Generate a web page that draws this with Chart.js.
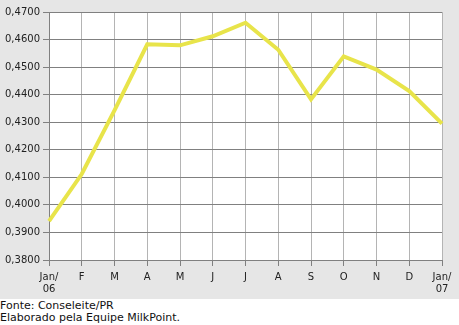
<!DOCTYPE html>
<html>
<head>
<meta charset="utf-8">
<script src="https://cdn.jsdelivr.net/npm/chart.js@4"></script>
<style>
body{margin:0;background:#fff;font-family:"DejaVu Sans",sans-serif;}
#wrap{width:459px;height:299px;background:#e6e6e6;}
#foot{font-size:11px;line-height:12px;color:#111;padding-top:1px;}
</style>
</head>
<body>
<div id="wrap"><canvas id="chart" width="459" height="299"></canvas></div>
<div id="foot">Fonte: Conseleite/PR<br>Elaborado pela Equipe MilkPoint.</div>
<script>

let months=[["Jan/","06"],"F","M","A","M","J","J","A","S","O","N","D",["Jan/","07"]];
let prices=[0.3941,0.4112,0.4343,0.4583,0.4579,0.4612,0.4661,0.4563,0.4383,0.4539,0.4491,0.4413,0.4295];
let yMin=0.38, yMax=0.47, yStep=0.01;

// white plot area on the grey card
let plotBg={
id:"plotBg",
beforeDraw(c){
let a=c.chartArea;
c.ctx.save();
c.ctx.fillStyle="#fff";
c.ctx.fillRect(a.left,a.top,a.right-a.left,a.bottom-a.top);
c.ctx.restore();
}
};

let chart=new Chart(document.getElementById("chart"),{
type:"line",
data:{
labels:months,
datasets:[{
data:prices,
borderColor:"#e8e44a",
borderWidth:4,
pointRadius:0,
tension:0,
fill:false
}]
},
options:{
responsive:false,
animation:false,
devicePixelRatio:1,
layout:{padding:{top:12,right:17,left:0,bottom:0}},
plugins:{legend:{display:false},tooltip:{enabled:false}},
scales:{
x:{
offset:false,
grid:{color:"#b4b4b4",tickColor:"#808080",tickLength:6,lineWidth:1},
border:{color:"#808080"},
ticks:{color:"#222",font:{family:"DejaVu Sans",size:10,lineHeight:1.2},padding:5,maxRotation:0,autoSkip:false},
afterFit:function(s){s.height=39;}
},
y:{
min:yMin,max:yMax,
grid:{color:"#808080",tickColor:"#808080",tickLength:6},
border:{color:"#808080"},
ticks:{stepSize:yStep,color:"#222",font:{family:"DejaVu Sans",size:10},padding:3,
callback:function(v){return v.toFixed(4).replace(".",",");}},
afterFit:function(s){s.width=49;}
}
}
},
plugins:[plotBg]
});
</script>
</body>
</html>
